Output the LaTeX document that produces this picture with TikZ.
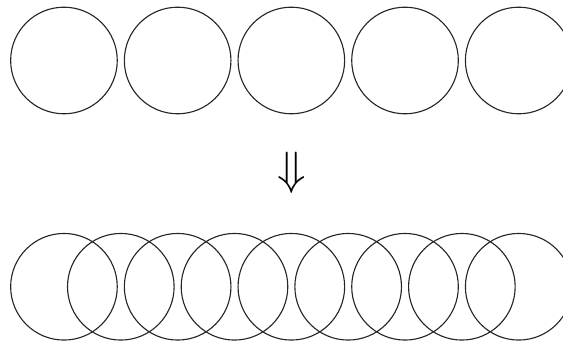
\documentclass[tikz,border=0pt]{standalone}
\usepackage{tikz}
\usepackage{amssymb}
\usepackage{amsmath}

\begin{document}
\begin{tikzpicture}[
    ring/.style={draw=black!85, line width=0.6pt},
    downarr/.style={font=\Huge, inner sep=0pt}
  ]
  \useasboundingbox (0,0) rectangle (10.563,-6.416);
  \clip (0,0) rectangle (10.563,-6.416);
  % top row, no overlap
  \foreach \i in {0,...,4}
    \draw[ring] (1.2+2.133*\i,-1.135) circle (1);
  \node[downarr] (arr) at (5.467,-3.25) {$\Downarrow$};
  % bottom row, half step
  \foreach \i in {0,...,8}
    \draw[ring] (1.2+1.0665*\i,-5.38) circle (1);
\end{tikzpicture}
\end{document}
